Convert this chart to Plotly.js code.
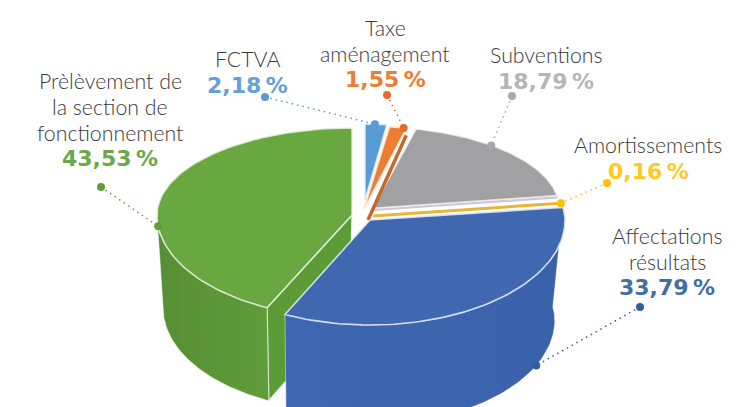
<!DOCTYPE html>
<html><head><meta charset="utf-8">
<script src="https://cdn.plot.ly/plotly-3.0.1.min.js"></script>
<style>html,body{margin:0;padding:0;background:#fff}#c{width:750px;height:407px}</style>
</head><body><div id="c"></div>
<script>
// Data
const names = ["FCTVA","Taxe","Subventions","Amortissements","Affectations","Prélèvement"];
const values = [2.18,1.55,18.79,0.16,33.79,43.53];
const pctText = ["2,18\u2009%","1,55\u2009%","18,79\u2009%","0,16\u2009%","33,79\u2009%","43,53\u2009%"];
const nameLines = [["FCTVA"],["Taxe","aménagement"],["Subventions"],["Amortissements"],["Affectations","résultats"],["Prèlèvement de","la section de","fonctionnement"]];
const topColors = ["#5B9BD5","#ED7D31","#A1A1A3","#E8B637","#4068B0","#69A840"];
const textColors = ["#659FD8","#ED7D31","#B6B6B6","#FFC91E","#41709F","#6BA84A"];
const dotColors = ["#5B9BD5","#E8692A","#A8A8A8","#FFC000","#2F5F9F","#5E9E3C"];

// Layout of the exploded 3-D projection (per slice: centre, radii)
const cxs = [365,364,373,373,370,352];
const cys = [200,209,208,216,220,215];
const rxs = [160,182,186,190,195,195];
const ryBack = [76,83,81,85,87,87];
const ryFront = [105,105,105,105,105,103];
const depths = [0,0,0,0,100,93];
const vanishX = 310, bottomScale = 0.96;
const warpDeg = 3.5; // perspective skew of the front-left quadrant

// Label layout
const labelX = [247,385,546,648,667,110];
const labelTop = [59,28,55,145,236,81];
const lineGap = 26;
const dotLabel = [[265,97],[387,95],[512,96],[607,183],[640,307],[101,187]];
const anchorFrac = [0.45,0.85,0.385,0.5,0.28,0.38];
const anchorOnBottom = [0,0,0,0,1,0];

const cum = []; let s = 0;
values.forEach(v => { cum.push([s, s + v]); s += v; });
const ang = p => p * 3.6 * Math.PI / 180;

function rim(i, a0) {
  let a = a0;
  if (a > Math.PI && a < 1.5 * Math.PI) a += warpDeg * Math.PI / 180 * Math.sin(2 * (a - Math.PI));
  const c = Math.cos(a);
  const ry = c > 0 ? ryBack[i] : ryFront[i];
  return [cxs[i] + rxs[i] * Math.sin(a), cys[i] - ry * c];
}
function drop(p, d) { return [vanishX + (p[0] - vanishX) * bottomScale, p[1] + d]; }
function arc(i, a0, a1, n) {
  const out = [];
  for (let k = 0; k <= n; k++) out.push(rim(i, a0 + (a1 - a0) * k / n));
  return out;
}
function poly(pts, fill, line, lw, grad) {
  const t = {
    type: 'scatter', mode: 'lines', x: pts.map(p => p[0]).concat(pts[0][0]), y: pts.map(p => p[1]).concat(pts[0][1]),
    fill: 'toself', fillcolor: fill, line: {color: line, width: lw}, hoverinfo: 'skip', showlegend: false
  };
  if (grad) t.fillgradient = {type: 'horizontal', colorscale: [[0, grad[0]], [1, grad[1]]]};
  return t;
}
function wedge(i, line, lw) {
  const [p0, p1] = cum[i];
  const pts = [[cxs[i], cys[i]]].concat(arc(i, ang(p0), ang(p1), 80));
  return poly(pts, topColors[i], line, lw);
}
function side(i, a0, a1, grad) {
  const top = arc(i, a0, a1, 80);
  const bot = top.map(p => drop(p, depths[i])).reverse();
  return poly(top.concat(bot), grad[0], 'rgba(255,255,255,0.45)', 1, grad);
}

const traces = [];
// Grey
traces.push(wedge(2, 'rgba(235,235,238,0.8)', 1.2));
// wall sliver under grey
const gEnd = rim(2, ang(cum[2][1]));
traces.push({type:'scatter',mode:'lines',x:[cxs[2],gEnd[0]+1],y:[cys[2]+2,gEnd[1]+2],line:{color:'#CFC6D3',width:2.2},hoverinfo:'skip',showlegend:false});
// Amortissements
const yMid = rim(3, ang((cum[3][0]+cum[3][1])/2));
traces.push({type:'scatter',mode:'lines',x:[cxs[3],yMid[0]],y:[cys[3],yMid[1]],line:{color:'#fff',width:5},hoverinfo:'skip',showlegend:false});
traces.push({type:'scatter',mode:'lines',x:[cxs[3],yMid[0]],y:[cys[3],yMid[1]],line:{color:topColors[3],width:3},hoverinfo:'skip',showlegend:false});
// FCTVA
traces.push(wedge(0, 'rgba(225,235,245,0.9)', 1.5));
// Taxe + its inner wall
const oEnd = rim(1, ang(cum[1][1]));
traces.push({type:'scatter',mode:'lines',x:[cxs[1]+4,oEnd[0]],y:[cys[1]+11,oEnd[1]+7],line:{color:'#C4682C',width:3.5},hoverinfo:'skip',showlegend:false});
traces.push(wedge(1, 'rgba(250,230,215,0.95)', 1.5));
// Green: wall, outer side, top
const gA = ang(cum[5][0]);
const gCorner = rim(5, gA), gC = [cxs[5], cys[5]];
traces.push(poly([gC, gCorner, drop(gCorner, depths[5]), drop(gC, depths[5])], '#5C9C36', 'rgba(255,255,255,0.75)', 1.5));
traces.push(side(5, gA, ang(75), ['#578F34', '#5F9C3A']));
traces.push(wedge(5, 'rgba(232,240,225,0.85)', 1.6));
// Blue: outer side, top
traces.push(side(4, ang(cum[4][0]), ang(cum[4][1]), ['#3F67B1', '#3A62AB']));
traces.push(wedge(4, 'rgba(222,232,245,0.9)', 1.6));

// Leader lines + dots
values.forEach((v, i) => {
  let p = rim(i, ang(cum[i][0] + (cum[i][1] - cum[i][0]) * anchorFrac[i]));
  if (anchorOnBottom[i]) p = drop(p, depths[i]);
  traces.push({
    type: 'scatter', mode: 'lines+markers', x: [dotLabel[i][0], p[0]], y: [dotLabel[i][1], p[1]],
    line: {color: dotColors[i], width: 1.5, dash: '1.5px 4px'},
    marker: {color: dotColors[i], size: 8}, hoverinfo: 'skip', showlegend: false
  });
});

// Labels
const annotations = [];
nameLines.forEach((lines, i) => {
  lines.forEach((txt, k) => annotations.push({
    x: labelX[i], y: labelTop[i] + k * lineGap, text: txt, showarrow: false, xanchor: 'center', yanchor: 'middle',
    font: {family: 'Lato, sans-serif', size: 21.3, color: '#3a3a3a', weight: 300}
  }));
  annotations.push({
    x: labelX[i], y: labelTop[i] + lines.length * lineGap - (lines.length>1?1:0), text: pctText[i], showarrow: false, xanchor: 'center', yanchor: 'middle',
    font: {family: '"DejaVu Sans", sans-serif', size: 22, color: textColors[i], weight: 700}
  });
});

Plotly.newPlot('c', traces, {
  width: 750, height: 407, margin: {l: 0, r: 0, t: 0, b: 0}, paper_bgcolor: '#fff', plot_bgcolor: '#fff', showlegend: false,
  xaxis: {range: [0, 750], visible: false, fixedrange: true},
  yaxis: {range: [407, 0], visible: false, fixedrange: true},
  annotations
}, {staticPlot: true, displayModeBar: false});
</script></body></html>
